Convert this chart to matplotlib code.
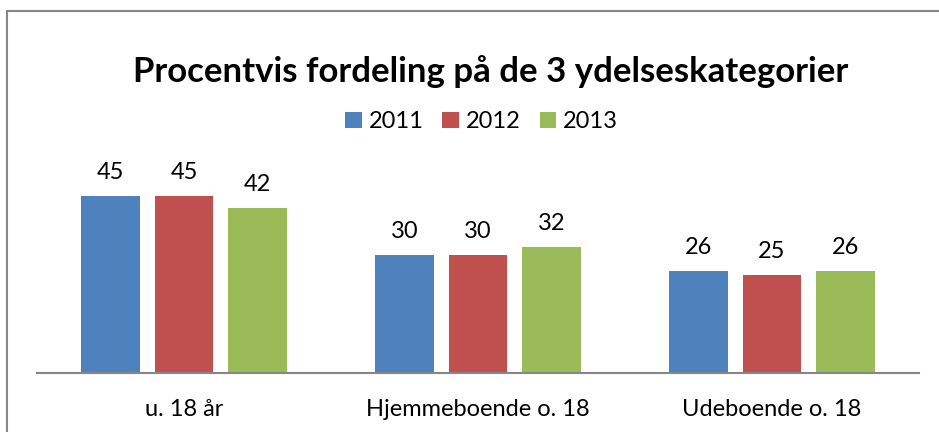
import numpy as np
import matplotlib.pyplot as plt
from matplotlib.patches import Rectangle

plt.rcParams['font.family'] = ['Lato', 'DejaVu Sans']

# Data
categories = ['u. 18 år', 'Hjemmeboende o. 18', 'Udeboende o. 18']
years = ['2011', '2012', '2013']
values = {
    '2011': [45, 30, 26],
    '2012': [45, 30, 25],
    '2013': [42, 32, 26],
}
colors = ['#4f81bd', '#c0504d', '#9bbb59']

fig = plt.figure(figsize=(9.39, 4.32), dpi=100)
ax = fig.add_axes([0.0394, 0.1366, 0.9393, 0.4548])

x = np.arange(len(categories))
width = 0.2
step = 0.25
for i, yr in enumerate(years):
    pos = x + (i - 1) * step
    bars = ax.bar(pos, values[yr], width=width, color=colors[i], label=yr, zorder=2)
    for b, v in zip(bars, values[yr]):
        ax.text(b.get_x() + b.get_width() / 2, v + 3.3, str(v),
                ha='center', va='bottom', fontsize=17, clip_on=False)

ax.set_xlim(-0.5, 2.5)
ax.set_ylim(0, 50)
ax.set_yticks([])
ax.set_xticks(x)
ax.set_xticklabels(categories, fontsize=17)
ax.tick_params(axis='x', length=0, pad=19)
for s in ['top', 'left', 'right']:
    ax.spines[s].set_visible(False)
ax.spines['bottom'].set_color('#868686')
ax.spines['bottom'].set_linewidth(1.5)

fig.text(0.522, 0.835, 'Procentvis fordeling på de 3 ydelseskategorier',
         ha='center', va='center', fontsize=25, fontweight='bold')

fig.legend(loc='center', bbox_to_anchor=(0.513, 0.718), ncol=3, frameon=False,
           fontsize=17, handlelength=0.7, handleheight=0.7, handletextpad=0.3,
           columnspacing=0.8)

# chart border
fig.patches.append(Rectangle((7 / 939, -0.1), 2, 1 - 11 / 432 + 0.1,
                             transform=fig.transFigure, fill=False,
                             edgecolor='#868686', linewidth=1.5))

fig.savefig('out.png', dpi=100)
